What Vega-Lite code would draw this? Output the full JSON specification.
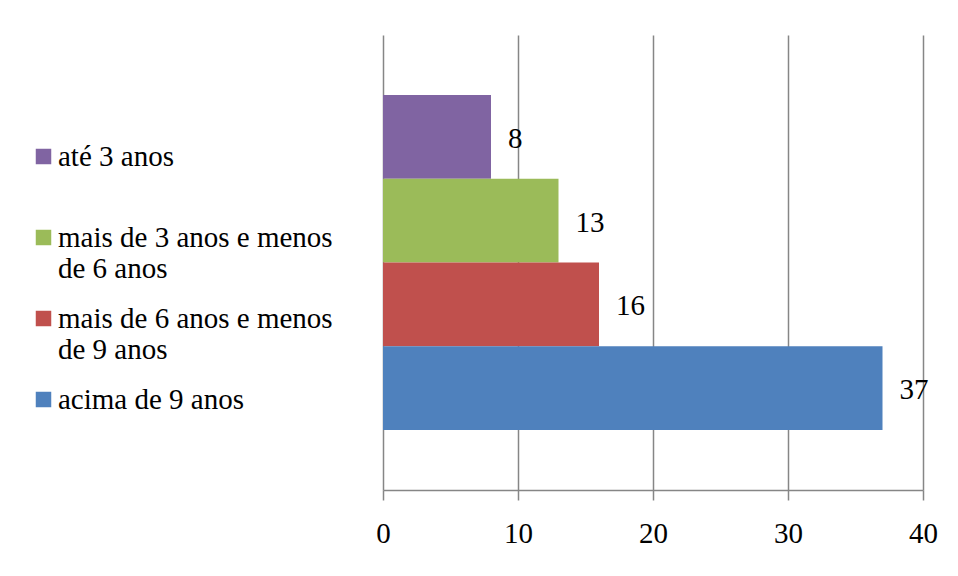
{
  "$schema": "https://vega.github.io/schema/vega-lite/v6.json",
  "width": 540,
  "height": 455,
  "autosize": {"type": "none"},
  "padding": {"left": 383, "top": 35, "right": 35, "bottom": 86},
  "background": "white",
  "config": {
    "view": {"stroke": null},
    "font": "Liberation Serif"
  },
  "data": {
    "values": [
      {"faixa": "até 3 anos", "valor": 8},
      {"faixa": "mais de 3 anos e menos de 6 anos", "valor": 13},
      {"faixa": "mais de 6 anos e menos de 9 anos", "valor": 16},
      {"faixa": "acima de 9 anos", "valor": 37}
    ]
  },
  "encoding": {
    "y": {
      "field": "faixa",
      "type": "nominal",
      "sort": ["até 3 anos", "mais de 3 anos e menos de 6 anos", "mais de 6 anos e menos de 9 anos", "acima de 9 anos"],
      "scale": {"paddingInner": 0, "paddingOuter": 0.716},
      "axis": null
    },
    "x": {
      "field": "valor",
      "type": "quantitative",
      "scale": {"domain": [0, 40], "nice": false},
      "axis": {
        "values": [0, 10, 20, 30, 40],
        "title": null,
        "grid": true,
        "gridColor": "#868686",
        "gridWidth": 1.5,
        "domainColor": "#868686",
        "domainWidth": 1.5,
        "tickColor": "#868686",
        "tickWidth": 1.5,
        "tickSize": 10,
        "labelFont": "Liberation Serif",
        "labelFontSize": 29,
        "labelColor": "black",
        "labelPadding": 19,
        "labelFlush": false
      }
    }
  },
  "layer": [
    {
      "mark": {"type": "bar"},
      "encoding": {
        "color": {
          "field": "faixa",
          "type": "nominal",
          "scale": {
            "domain": ["até 3 anos", "mais de 3 anos e menos de 6 anos", "mais de 6 anos e menos de 9 anos", "acima de 9 anos"],
            "range": ["#8064A2", "#9BBB59", "#C0504D", "#4F81BD"]
          },
          "legend": {
            "orient": "none",
            "legendX": -354,
            "legendY": 107,
            "title": null,
            "symbolType": "square",
            "symbolSize": 240,
            "symbolStrokeWidth": 0,
            "symbolOpacity": 1,
            "labelFont": "Liberation Serif",
            "labelFontSize": 29,
            "labelColor": "black",
            "labelLimit": 400,
            "labelOffset": 0,
            "labelLineHeight": 32,
            "labelBaseline": "middle",
            "gridAlign": "all",
            "rowPadding": 20,
            "labelExpr": "datum.label == 'mais de 3 anos e menos de 6 anos' ? ['mais de 3 anos e menos', 'de 6 anos'] : datum.label == 'mais de 6 anos e menos de 9 anos' ? ['mais de 6 anos e menos', 'de 9 anos'] : datum.label"
          }
        }
      }
    },
    {
      "mark": {"type": "text", "align": "left", "baseline": "middle", "dx": 17, "dy": 2, "fontSize": 29, "font": "Liberation Serif", "color": "black"},
      "encoding": {
        "text": {"field": "valor", "type": "quantitative"}
      }
    }
  ]
}
